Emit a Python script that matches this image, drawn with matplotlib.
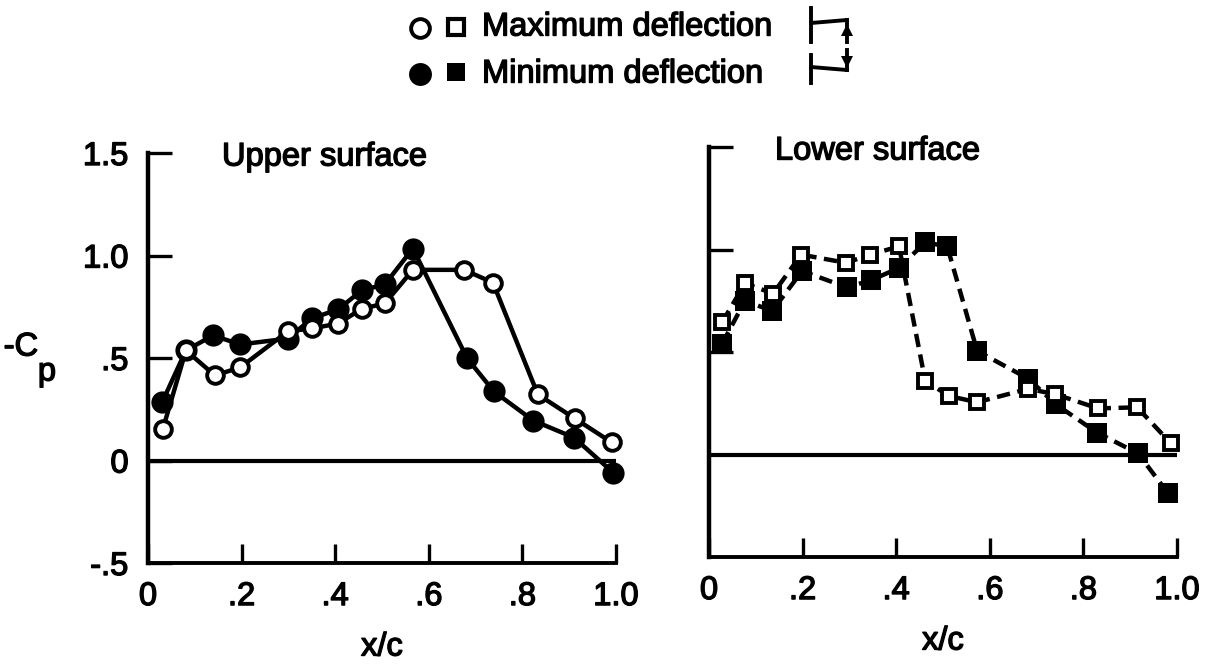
import matplotlib
matplotlib.use("Agg")
import matplotlib.pyplot as plt
import matplotlib.patheffects as pe
from matplotlib.lines import Line2D

plt.rcParams['font.family'] = ['Liberation Sans', 'DejaVu Sans']

up_max_x = [0.032, 0.081, 0.143, 0.197, 0.299, 0.35, 0.406, 0.457, 0.506, 0.566, 0.675, 0.737, 0.833, 0.912, 0.991]
up_max_y = [0.156, 0.537, 0.415, 0.454, 0.63, 0.644, 0.668, 0.74, 0.766, 0.93, 0.93, 0.868, 0.322, 0.205, 0.088]
up_min_x = [0.03, 0.081, 0.139, 0.197, 0.299, 0.35, 0.406, 0.457, 0.506, 0.566, 0.682, 0.739, 0.823, 0.91, 0.994]
up_min_y = [0.283, 0.537, 0.61, 0.566, 0.595, 0.693, 0.737, 0.83, 0.859, 1.034, 0.498, 0.337, 0.195, 0.112, -0.059]

lo_max_x = [0.028, 0.077, 0.137, 0.197, 0.293, 0.344, 0.406, 0.462, 0.513, 0.573, 0.682, 0.739, 0.831, 0.915, 0.987]
lo_max_y = [0.645, 0.835, 0.785, 0.975, 0.935, 0.975, 1.015, 0.36, 0.285, 0.255, 0.32, 0.295, 0.225, 0.23, 0.054]
lo_min_x = [0.028, 0.077, 0.135, 0.199, 0.295, 0.346, 0.406, 0.462, 0.509, 0.573, 0.682, 0.741, 0.829, 0.917, 0.981]
lo_min_y = [0.54, 0.75, 0.70, 0.895, 0.815, 0.85, 0.91, 1.035, 1.015, 0.505, 0.37, 0.245, 0.107, 0.005, -0.19]

x_ticks = [0, 0.2, 0.4, 0.6, 0.8, 1.0]
x_labels = ['0', '.2', '.4', '.6', '.8', '1.0']
y_ticks = [-0.5, 0, 0.5, 1.0, 1.5]
y_labels = ['-.5', '0', '.5', '1.0', '1.5']

W, H = 1208, 664
fig = plt.figure(figsize=(W/100, H/100), dpi=100, facecolor='white')
def mk(l, r, t, b):
    return fig.add_axes([l/W, 1-b/H, (r-l)/W, (b-t)/H])
ax1 = mk(148, 616, 153, 563)
ax2 = mk(709, 1177, 147, 557)
INK = '#000000'
FS = 23.5
BOLD = [pe.withStroke(linewidth=1.0, foreground=INK)]
for ax in (ax1, ax2):
    ax.set_xlim(0, 1.0)
    ax.set_ylim(-0.5, 1.5)
    for s in ('top', 'right'):
        ax.spines[s].set_visible(False)
    ax.spines['left'].set_linewidth(3.2)
    ax.spines['bottom'].set_linewidth(2.8)
    ax.axhline(0, color=INK, lw=3.0, zorder=1)
    ax.set_xticks(x_ticks)
    ax.set_xticklabels(x_labels, fontsize=FS, color=INK, path_effects=BOLD)
    ax.set_yticks(y_ticks)
    ax.tick_params(axis='x', direction='in', length=14, width=2.4, pad=13, color=INK)
    ax.tick_params(axis='y', direction='in', length=17, width=2.4, color=INK)
    ax.set_xlabel('x/c', fontsize=FS, color=INK, labelpad=14, path_effects=BOLD)

ax1.set_yticklabels(y_labels, fontsize=FS, color=INK, path_effects=BOLD)
ax1.tick_params(axis='y', pad=14)
ax2.tick_params(axis='y', labelleft=False)
ax2.yaxis.get_major_ticks()[0].tick1line.set_visible(False)
ax2.yaxis.get_major_ticks()[1].tick1line.set_visible(False)

lw = 3.2
ax1.plot(up_min_x, up_min_y, '-o', color=INK, lw=lw, ms=16, mfc=INK, mew=0, zorder=3, clip_on=False)
ax1.plot(up_max_x, up_max_y, '-o', color=INK, lw=lw, ms=12, mfc='white', mew=2.8, zorder=4, clip_on=False)
ax2.plot(lo_min_x, lo_min_y, '--s', color=INK, lw=lw, ms=14, mfc=INK, mew=0, zorder=3, dashes=(3, 1.7), clip_on=False)
ax2.plot(lo_max_x, lo_max_y, '--s', color=INK, lw=lw, ms=10.5, mfc='white', mew=2.8, zorder=4, dashes=(3, 1.7), clip_on=False)

def label(x, y, s, ha='left', size=FS):
    fig.text(x/W, 1-y/H, s, fontsize=size, color=INK, va='center', ha=ha, path_effects=BOLD)

label(222, 157, 'Upper surface')
label(775, 151, 'Lower surface')
label(21, 347, '-C', ha='center')
label(47, 372, 'p', ha='center')
label(482, 27, 'Maximum deflection')
label(482, 74, 'Minimum deflection')

for px, py, m, fc, ms, mew in [(420, 28, 'o', 'white', 13.5, 2.8), (456, 27, 's', 'white', 12, 3),
                               (420, 74, 'o', INK, 16.5, 0), (456, 72, 's', INK, 13, 0)]:
    fig.add_artist(Line2D([px/W], [1-py/H], marker=m, mfc=fc, mec=INK, ms=ms, mew=mew, ls='none',
                          transform=fig.transFigure))

# flap sketches beside the legend
def seg(xs, ys):
    fig.add_artist(Line2D([x/W for x in xs], [1-y/H for y in ys], color=INK, lw=2.8,
                          transform=fig.transFigure))
def head(x, y, m):
    fig.add_artist(Line2D([x/W], [1-y/H], marker=m, color=INK, ms=9, mew=0, ls='none',
                          transform=fig.transFigure))
seg([811, 811], [8, 42]); seg([811, 847], [23, 20]); seg([847, 847], [20, 42]); head(847, 30, '^')
seg([811, 811], [55, 83]); seg([811, 847], [67, 70]); seg([847, 847], [50, 70]); head(847, 62, 'v')
fig.savefig('out.png', dpi=100)
